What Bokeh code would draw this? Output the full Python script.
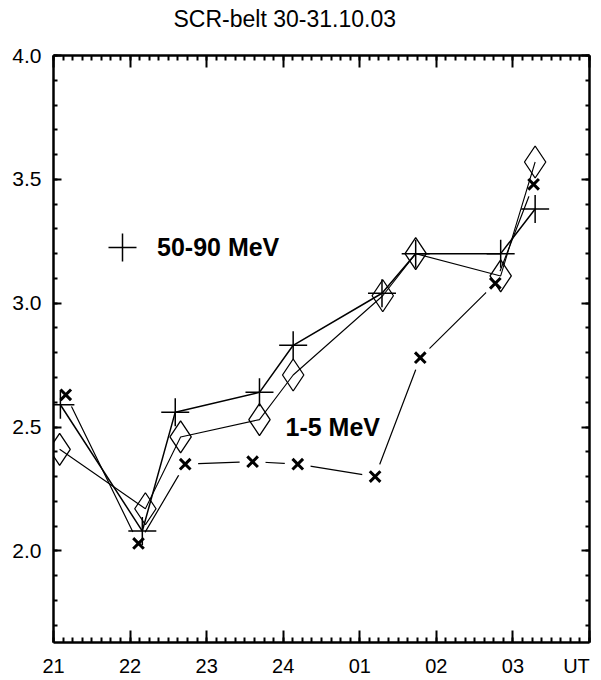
import numpy as np
from bokeh.plotting import figure
from bokeh.models import FixedTicker, LinearAxis, Range1d, Legend, LegendItem, Label
from bokeh.embed import file_html
from bokeh.resources import INLINE

# ---------------- data ----------------
title_text = "SCR-belt 30-31.10.03"

# time in hours UT counted on from 21 UT of 30.10 (25 = 01 UT of 31.10)
plus_t = [21.09, 22.16, 22.59, 23.69, 24.13, 25.29, 25.73, 26.84, 27.29]
plus_v = [2.59, 2.08, 2.56, 2.64, 2.83, 3.04, 3.20, 3.20, 3.38]

dia_t = [21.08, 22.20, 22.66, 23.69, 24.13, 25.30, 25.73, 26.84, 27.29]
dia_v = [2.41, 2.17, 2.46, 2.53, 2.71, 3.03, 3.20, 3.11, 3.57]

x_t = [21.16, 22.11, 22.72, 23.60, 24.19, 25.20, 25.79, 26.77, 27.27]
x_v = [2.63, 2.03, 2.35, 2.36, 2.35, 2.30, 2.78, 3.08, 3.48]

x_tick_values = [21, 22, 23, 24, 25, 26, 27, 28]
x_tick_labels = ["21", "22", "23", "24", "01", "02", "03", ""]
y_tick_values = [2.0, 2.5, 3.0, 3.5, 4.0]
y_tick_labels = ["2.0", "2.5", "3.0", "3.5", "4.0"]

legend_high = "50-90 MeV"
label_low = "1-5 MeV"
unit_label = "UT"

# ---------------- figure ----------------
X0, X1 = 21, 28
Y0, Y1 = 1.63, 4.0
UNIT_AT = 27.83          # where the "UT" word sits along the time axis

p = figure(width=601, height=680, x_range=Range1d(X0, X1), y_range=Range1d(Y0, Y1),
           output_backend="svg", toolbar_location=None,
           min_border_left=53, min_border_right=12, min_border_top=55, min_border_bottom=38)
p.background_fill_color = "white"
p.border_fill_color = "white"
p.outline_line_color = None
p.grid.grid_line_color = None

p.title.text = title_text
p.title.align = "left"
p.title.offset = 120
p.title.vertical_align = "bottom"
p.title.text_font = "Liberation Sans"
p.title.text_font_size = "23px"
p.title.text_font_style = "normal"
p.title.text_color = "black"
p.title.standoff = 4

x_minor = list(np.round(np.arange(X0, X1 + 1e-6, 1 / 8), 4))
y_minor = list(np.round(np.arange(1.7, Y1 + 1e-6, 0.1), 3))
xt = FixedTicker(ticks=x_tick_values, minor_ticks=x_minor)
yt = FixedTicker(ticks=y_tick_values, minor_ticks=y_minor)

TICK_FONT = "Liberation Sans Narrow, Liberation Sans, sans-serif"


def style_axis(ax, major_len, minor_len):
    ax.axis_line_width = 2.5
    ax.axis_line_color = "black"
    ax.major_tick_in = major_len
    ax.major_tick_out = 0
    ax.minor_tick_in = minor_len
    ax.minor_tick_out = 0
    ax.major_tick_line_width = 2
    ax.minor_tick_line_width = 2
    ax.major_tick_line_color = "black"
    ax.minor_tick_line_color = "black"
    ax.major_label_text_font = TICK_FONT
    ax.major_label_text_font_size = "21px"
    ax.major_label_text_color = "black"


def blank_labels(ax, ticks):
    ax.major_label_overrides = {v: "" for v in ticks}
    ax.major_label_standoff = 0


# bottom: frame line + ticks, no labels
xb = p.xaxis[0]
xb.ticker = xt
style_axis(xb, 12, 5)
blank_labels(xb, x_tick_values)

# bottom labels (hour numbers and the unit word), no line, no ticks
lab_ticks = x_tick_values[:-1] + [UNIT_AT]
lab_texts = x_tick_labels[:-1] + [unit_label]
xl = LinearAxis(ticker=FixedTicker(ticks=lab_ticks, minor_ticks=[]))
xl.axis_line_color = None
xl.major_tick_line_color = None
xl.minor_tick_line_color = None
xl.major_tick_in = 0
xl.major_tick_out = 0
xl.minor_tick_in = 0
xl.minor_tick_out = 0
xl.major_label_overrides = {v: s for v, s in zip(lab_ticks, lab_texts)}
xl.major_label_text_font = TICK_FONT
xl.major_label_text_font_size = "20px"
xl.major_label_text_color = "black"
xl.major_label_standoff = 12
p.add_layout(xl, "below")

yl = p.yaxis[0]
yl.ticker = yt
yl.major_label_overrides = {v: s for v, s in zip(y_tick_values, y_tick_labels)}
style_axis(yl, 8, 4)
yl.major_label_standoff = 12

# top: frame line + ticks only
xa = LinearAxis(ticker=xt)
style_axis(xa, 12, 5)
blank_labels(xa, x_tick_values)
p.add_layout(xa, "above")

# invisible spacer band above the top ticks, lifting the title clear of the frame
spacer = LinearAxis(ticker=FixedTicker(ticks=[X0], minor_ticks=[]))
spacer.axis_line_color = None
spacer.major_tick_line_color = None
spacer.minor_tick_line_color = None
spacer.major_tick_in = 0
spacer.major_tick_out = 22
spacer.minor_tick_in = 0
spacer.minor_tick_out = 0
blank_labels(spacer, [X0])
p.add_layout(spacer, "above")

yr = LinearAxis(ticker=yt)
style_axis(yr, 8, 4)
blank_labels(yr, y_tick_values)
p.add_layout(yr, "right")

# ---------------- glyphs ----------------
# 1-5 MeV (x) series: line broken near its markers
p.line(x_t, x_v, line_color="black", line_width=1.2)
p.scatter(x_t, x_v, marker="circle", size=26, fill_color="white", line_color=None)

p.line(dia_t, dia_v, line_color="black", line_width=1.1)
p.line(plus_t, plus_v, line_color="black", line_width=1.5)

p.scatter(dia_t, dia_v, marker="diamond", size=32, fill_color=None,
          line_color="black", line_width=1.3)
plus_r = p.scatter(plus_t, plus_v, marker="cross", size=28,
                   line_color="black", line_width=1.5)
p.scatter(x_t, x_v, marker="x", size=15, line_color="black", line_width=3)

# ---------------- legend / labels ----------------
legend = Legend(items=[LegendItem(label=legend_high, renderers=[plus_r])],
                location=(34, 360), glyph_width=70, glyph_height=70,
                label_standoff=0, padding=0, margin=0, spacing=0,
                background_fill_alpha=0, border_line_color=None,
                label_text_font="Liberation Sans", label_text_font_size="25px",
                label_text_font_style="bold", label_text_color="black")
p.add_layout(legend)

p.add_layout(Label(x=24.03, y=2.50, text=label_low, text_align="left",
                   text_baseline="middle", text_font="Liberation Sans",
                   text_font_size="25px", text_font_style="bold", text_color="black"))

open("out.html", "w").write(file_html(p, INLINE))
